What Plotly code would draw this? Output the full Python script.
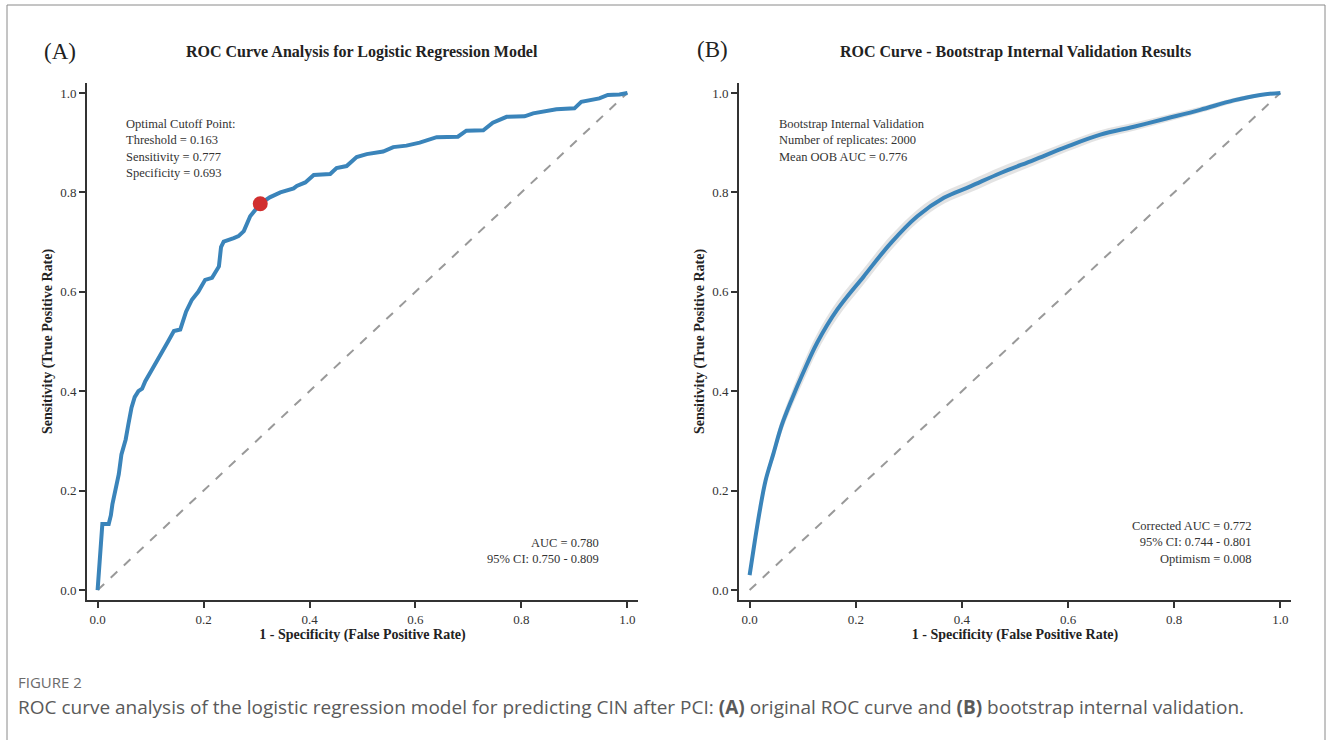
import plotly.graph_objects as go

# ---------------- data ----------------
# Panel A: empirical ROC curve
fpr_a = [0.0, 0.004, 0.009, 0.021, 0.025, 0.028, 0.034, 0.040, 0.045, 0.049, 0.053, 0.058,
         0.064, 0.070, 0.077, 0.084, 0.090, 0.103, 0.112, 0.122, 0.133, 0.144, 0.156, 0.167,
         0.178, 0.190, 0.203, 0.216, 0.229, 0.233, 0.238, 0.257, 0.266, 0.276, 0.288, 0.307,
         0.325, 0.345, 0.370, 0.376, 0.392, 0.408, 0.439, 0.451, 0.470, 0.489, 0.508, 0.539,
         0.558, 0.583, 0.608, 0.640, 0.680, 0.696, 0.728, 0.746, 0.772, 0.806, 0.822, 0.866,
         0.900, 0.913, 0.947, 0.963, 0.985, 1.0]
tpr_a = [0.0, 0.06, 0.133, 0.133, 0.150, 0.173, 0.203, 0.233, 0.273, 0.285, 0.303, 0.333,
         0.367, 0.388, 0.400, 0.405, 0.420, 0.444, 0.462, 0.478, 0.500, 0.521, 0.524, 0.560,
         0.584, 0.600, 0.624, 0.628, 0.651, 0.690, 0.701, 0.708, 0.712, 0.722, 0.752, 0.777,
         0.790, 0.800, 0.808, 0.813, 0.820, 0.835, 0.837, 0.849, 0.853, 0.871, 0.877, 0.882,
         0.891, 0.894, 0.900, 0.911, 0.912, 0.924, 0.925, 0.940, 0.952, 0.953, 0.959, 0.967,
         0.969, 0.982, 0.989, 0.996, 0.997, 1.0]
cutoff_fpr = [0.307]
cutoff_tpr = [0.777]

# Panel B: bootstrap smoothed ROC with band
fpr_b = [0.0, 0.01, 0.02, 0.03, 0.045, 0.06, 0.08, 0.10, 0.127, 0.165, 0.215, 0.266, 0.316,
         0.366, 0.416, 0.473, 0.535, 0.598, 0.661, 0.724, 0.787, 0.849, 0.912, 0.962, 1.0]
tpr_b = [0.03, 0.10, 0.165, 0.22, 0.275, 0.33, 0.385, 0.435, 0.497, 0.564, 0.631, 0.698, 0.752,
         0.789, 0.812, 0.839, 0.865, 0.892, 0.916, 0.932, 0.949, 0.966, 0.985, 0.996, 1.0]
lower_b = [0.026, 0.094, 0.157, 0.210, 0.263, 0.316, 0.369, 0.417, 0.479, 0.547, 0.615, 0.683,
           0.739, 0.777, 0.800, 0.827, 0.854, 0.882, 0.907, 0.924, 0.942, 0.960, 0.980, 0.993, 1.0]
upper_b = [0.034, 0.106, 0.173, 0.230, 0.287, 0.344, 0.401, 0.453, 0.515, 0.581, 0.647, 0.713,
           0.765, 0.801, 0.824, 0.851, 0.876, 0.902, 0.925, 0.940, 0.956, 0.972, 0.990, 0.999, 1.0]

diag = [0.0, 1.0]
tick_vals = [0.0, 0.2, 0.4, 0.6, 0.8, 1.0]

# ---------------- figure ----------------
W, H = 1330, 740
SERIF = "Liberation Serif, Times New Roman, serif"
BLUE = "#3A84BA"
fig = go.Figure()

# Panel A
fig.add_trace(go.Scatter(x=diag, y=diag, mode="lines", xaxis="x", yaxis="y",
                         line=dict(color="#999999", width=2, dash="dash"), showlegend=False))
fig.add_trace(go.Scatter(x=fpr_a, y=tpr_a, mode="lines", xaxis="x", yaxis="y",
                         line=dict(color=BLUE, width=4), showlegend=False))
fig.add_trace(go.Scatter(x=cutoff_fpr, y=cutoff_tpr, mode="markers", xaxis="x", yaxis="y",
                         marker=dict(color="#D12F2F", size=15), showlegend=False))

# Panel B
fig.add_trace(go.Scatter(x=diag, y=diag, mode="lines", xaxis="x2", yaxis="y2",
                         line=dict(color="#999999", width=2, dash="dash"), showlegend=False))
fig.add_trace(go.Scatter(x=fpr_b, y=lower_b, mode="lines", xaxis="x2", yaxis="y2",
                         line=dict(width=0, color="rgba(0,0,0,0)"), line_shape="spline",
                         showlegend=False))
fig.add_trace(go.Scatter(x=fpr_b, y=upper_b, mode="lines", xaxis="x2", yaxis="y2",
                         line=dict(width=0, color="rgba(0,0,0,0)"), line_shape="spline",
                         fill="tonexty", fillcolor="rgba(200,200,200,0.5)", showlegend=False))
fig.add_trace(go.Scatter(x=fpr_b, y=tpr_b, mode="lines", xaxis="x2", yaxis="y2",
                         line=dict(color=BLUE, width=4), line_shape="spline", showlegend=False))

def px_x(p):
    return p / W

def px_y(p):
    return 1 - p / H

axis_common = dict(
    range=[-0.02, 1.02], tickvals=tick_vals, tickformat=".1f",
    showgrid=False, zeroline=False, showline=True, linecolor="#333333", linewidth=2,
    ticks="outside", ticklen=6, tickwidth=1.5, tickcolor="#333333",
    tickfont=dict(family=SERIF, size=13, color="#333333"),
)

xtitle = dict(text="<b>1 - Specificity (False Positive Rate)</b>",
              font=dict(family=SERIF, size=14, color="#222222"), standoff=2)
ytitle = dict(text="<b>Sensitivity (True Positive Rate)</b>",
              font=dict(family=SERIF, size=14, color="#222222"), standoff=4)

fig.update_layout(
    width=W, height=H,
    margin=dict(l=0, r=0, t=0, b=0),
    paper_bgcolor="white", plot_bgcolor="white",
    xaxis=dict(domain=[px_x(87), px_x(638)], anchor="y", title=xtitle, **axis_common),
    yaxis=dict(domain=[px_y(600), px_y(83)], anchor="x", title=ytitle, **axis_common),
    xaxis2=dict(domain=[px_x(739), px_x(1291)], anchor="y2", title=xtitle, **axis_common),
    yaxis2=dict(domain=[px_y(600), px_y(83)], anchor="x2", title=ytitle, **axis_common),
)

ann = []
# Panel labels and titles
ann.append(dict(text="(A)", x=px_x(42), y=px_y(52), xref="paper", yref="paper",
                xanchor="left", yanchor="middle", showarrow=False,
                font=dict(family=SERIF, size=23, color="#222222")))
ann.append(dict(text="(B)", x=px_x(695), y=px_y(50), xref="paper", yref="paper",
                xanchor="left", yanchor="middle", showarrow=False,
                font=dict(family=SERIF, size=23, color="#222222")))
ann.append(dict(text="<b>ROC Curve Analysis for Logistic Regression Model</b>",
                x=px_x(362), y=px_y(52), xref="paper", yref="paper",
                xanchor="center", yanchor="middle", showarrow=False,
                font=dict(family=SERIF, size=16, color="#222222")))
ann.append(dict(text="<b>ROC Curve - Bootstrap Internal Validation Results</b>",
                x=px_x(1015), y=px_y(52), xref="paper", yref="paper",
                xanchor="center", yanchor="middle", showarrow=False,
                font=dict(family=SERIF, size=16, color="#222222")))

txt_font = dict(family=SERIF, size=12.5, color="#333333")
ann.append(dict(text="Optimal Cutoff Point:<br>Threshold = 0.163<br>Sensitivity = 0.777<br>Specificity = 0.693",
                x=0.049, y=0.955, xref="x", yref="y", xanchor="left", yanchor="top",
                align="left", showarrow=False, font=txt_font))
ann.append(dict(text="AUC = 0.780<br>95% CI: 0.750 - 0.809",
                x=0.951, y=0.045, xref="x", yref="y", xanchor="right", yanchor="bottom",
                align="right", showarrow=False, font=txt_font))
ann.append(dict(text="Bootstrap Internal Validation<br>Number of replicates: 2000<br>Mean OOB AUC = 0.776",
                x=0.051, y=0.955, xref="x2", yref="y2", xanchor="left", yanchor="top",
                align="left", showarrow=False, font=txt_font))
ann.append(dict(text="Corrected AUC = 0.772<br>95% CI: 0.744 - 0.801<br>Optimism = 0.008",
                x=0.951, y=0.045, xref="x2", yref="y2", xanchor="right", yanchor="bottom",
                align="right", showarrow=False, font=txt_font))

# Caption
ann.append(dict(text="FIGURE 2", x=px_x(16), y=px_y(682), xref="paper", yref="paper",
                xanchor="left", yanchor="middle", showarrow=False,
                font=dict(family="Open Sans, sans-serif", size=15, color="#6b6b6b")))
ann.append(dict(text="ROC curve analysis of the logistic regression model for predicting CIN after PCI: "
                     "<b>(A)</b> original ROC curve and <b>(B)</b> bootstrap internal validation.",
                x=px_x(16), y=px_y(707), xref="paper", yref="paper",
                xanchor="left", yanchor="middle", showarrow=False,
                font=dict(family="Open Sans, sans-serif", size=19, color="#5a5a5a")))
fig.update_layout(annotations=ann)

# Outer frame (left, top, right)
frame = dict(type="line", xref="paper", yref="paper", line=dict(color="#8a8a8a", width=1))
fig.update_layout(shapes=[
    dict(frame, x0=px_x(7), x1=px_x(7), y0=0, y1=px_y(5)),
    dict(frame, x0=px_x(7), x1=px_x(1325), y0=px_y(5), y1=px_y(5)),
    dict(frame, x0=px_x(1325), x1=px_x(1325), y0=0, y1=px_y(5)),
])

fig.write_html("out.html",
               config={"displayModeBar": False},
               post_script="document.body.style.margin='0';document.body.style.overflow='hidden';")
